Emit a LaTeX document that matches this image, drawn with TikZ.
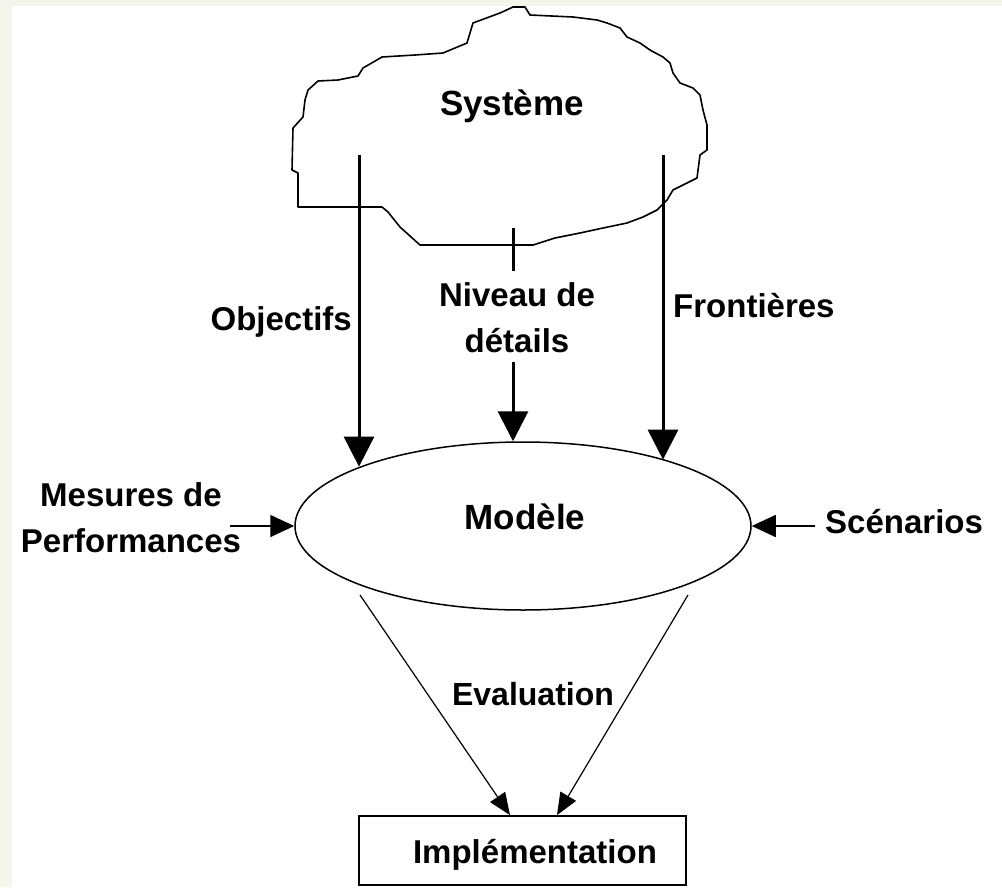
\documentclass[tikz,border=0pt]{standalone}
\usepackage{fontspec}
\setmainfont{Liberation Sans}
\usepackage{tikz}
\usetikzlibrary{shapes,arrows.meta,calc}

\definecolor{bgframe}{HTML}{F4F6EC}

\tikzset{
  lbl/.style={font=\bfseries\fontsize{33}{46}\selectfont, inner sep=0pt, align=center},
  bigarrow/.style={line width=3pt, -{Triangle[length=30pt,width=30pt]}},
  sidearrow/.style={line width=1.6pt, -{Triangle[length=24pt,width=22pt]}},
  evalarrow/.style={line width=1.2pt, -{Triangle[length=22pt,width=18pt]}}
}

\begin{document}
\begin{tikzpicture}[x=1pt,y=-1pt]
\fill[bgframe] (0,0) rectangle (1002,887);
\fill[white] (12,6) rectangle (1002,887);
\useasboundingbox (0,0) rectangle (1002,887);

% cloud
\draw[line width=1.6pt,line join=round] (513,7) -- (525,7) -- (530,15) -- (573,17) -- (597,20) -- (607,23) -- (620,28) -- (627,37) -- (640,43) -- (650,50) -- (663,57) -- (670,63) -- (673,73) -- (680,83) -- (693,88) -- (700,95) -- (703,110) -- (707,125) -- (707,150) -- (700,155) -- (697,178) -- (673,190) -- (667,200) -- (657,210) -- (643,217) -- (627,223) -- (603,228) -- (580,233) -- (555,238) -- (533,245) -- (420,245) -- (400,227) -- (388,212) -- (382,207) -- (298,207) -- (298,173) -- (292,170) -- (293,128) -- (303,117) -- (305,100) -- (308,90) -- (318,81) -- (338,80) -- (358,76) -- (363,68) -- (382,57) -- (415,55) -- (443,53) -- (467,43) -- (473,23) -- (500,13) -- cycle;
\node[lbl,anchor=base,font=\bfseries\fontsize{35}{40}\selectfont] (sys) at (512,115) {Système};

\coordinate (obj-start) at (359,155);
\coordinate (fro-start) at (663,155);
\coordinate (niv-start) at (513,228);
\coordinate (niv-end) at (513,271);
\coordinate (niv-go) at (513,362);

% model
\node[draw,ellipse,line width=1.5pt,minimum width=456pt,minimum height=168pt] (modele) at (523,526) {};
\node[lbl,anchor=base,font=\bfseries\fontsize{35}{40}\selectfont] (modtxt) at (525,529) {Modèle};

% inputs from the system
\draw[bigarrow] (obj-start) -- (obj-start |- modele.160.5);
\draw[bigarrow] (fro-start) -- (fro-start |- modele.25.2);
\draw[line width=3pt] (niv-start) -- (niv-end);
\draw[bigarrow] (niv-go) -- (niv-go |- modele.north);
\node[lbl,anchor=base east] (objectifs) at (352,330) {Objectifs};
\node[lbl,anchor=base west] (frontieres) at (673,317) {Frontières};
\node[lbl,anchor=base] (niveau) at (517,352) {Niveau de\\détails};

% side inputs
\node[lbl,anchor=base] (mesures) at (131,552) {Mesures de\\Performances};
\node[lbl,anchor=base west] (scenarios) at (825,533) {Scénarios};
\coordinate (mes-start) at (230,526);
\coordinate (sce-start) at (815,526);
\draw[sidearrow] (mes-start) -- (modele.west);
\draw[sidearrow] (sce-start) -- (modele.east);

% implementation
\node[draw,line width=1.8pt,minimum width=327pt,minimum height=69pt,inner sep=0pt] (impl) at (522.5,850.5) {};
\node[lbl,anchor=base] (impltxt) at (535,863) {Implémentation};
\coordinate (eval-l) at (360,595);
\coordinate (eval-r) at (688,595);
\draw[evalarrow] (eval-l) -- ($(impl.north)+(-12.5,0)$);
\draw[evalarrow] (eval-r) -- ($(impl.north)+(34.5,0)$);
\node[lbl,anchor=base,font=\bfseries\fontsize{32}{40}\selectfont] (evaluation) at (533,705) {Evaluation};
\end{tikzpicture}
\end{document}
